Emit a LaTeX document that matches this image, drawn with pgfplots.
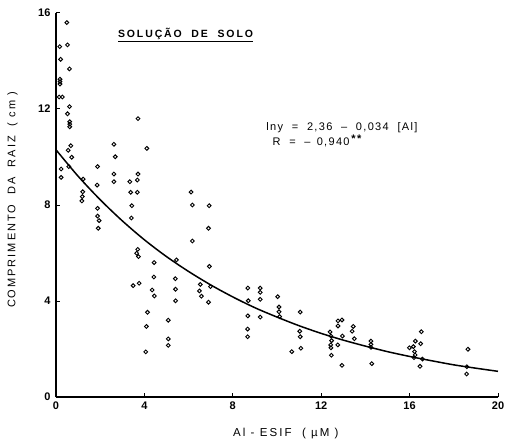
\documentclass[border=0pt]{standalone}
\usepackage{pgfplots}
\pgfplotsset{compat=1.18}
\usepackage{fontspec}
\setmainfont{Liberation Sans}
\newfontfamily\lbl[LetterSpace=18]{Liberation Sans}
\newfontfamily\lbls[LetterSpace=12]{Liberation Sans}
\begin{document}
\begin{tikzpicture}
\path[use as bounding box] (-56pt,-45pt) rectangle (449pt,397pt);
\begin{axis}[
  at={(0,0)}, anchor=south west,
  scale only axis, width=442pt, height=384pt,
  xmin=0, xmax=20, ymin=0, ymax=16,
  axis x line=bottom, axis y line=left,
  axis line style={-, line width=1.1pt},
  xtick={0,4,8,12,16,20}, ytick={0,4,8,12,16},
  tick align=inside, major tick length=4pt,
  tick style={line width=1pt, black},
  /pgf/number format/assume math mode=true,
  ticklabel style={font=\fontsize{11}{12}\selectfont\bfseries},
  xticklabel style={yshift=-1pt},
  yticklabel style={xshift=-2pt},
  xlabel={\lbl Al - ESIF \ ( µM )},
  x label style={at={(axis description cs:0.52,0)}, anchor=center, yshift=-37pt, font=\fontsize{11.5}{12}\selectfont},
  ylabel={\lbl COMPRIMENTO \ DA \ RAIZ \ ( cm )},
  y label style={at={(axis description cs:-0.0984,0.513)}, anchor=center, font=\fontsize{11}{12}\selectfont},
  clip=false,
]
\addplot[only marks, mark=o, mark size=1.9pt, mark options={line width=0.95pt, black}] coordinates {
(0.49,15.6) (0.17,14.6) (0.52,14.67) (0.21,14.07) (0.61,13.67)
(0.18,13.24) (0.18,13.14) (0.18,13.04) (0.14,12.5) (0.29,12.5)
(0.61,12.1) (0.52,11.8) (0.62,11.47) (0.62,11.37) (0.62,11.26)
(0.67,10.47) (0.55,10.28) (0.71,9.99) (0.58,9.6) (0.23,9.5) (0.23,9.15)
(1.23,9.08) (1.21,8.55) (1.19,8.35) (1.17,8.17)
(1.88,9.6) (1.86,8.83) (1.88,7.86) (1.88,7.54) (1.95,7.35) (1.91,7.03)
(2.62,10.53) (2.68,10.01) (2.62,9.29) (2.62,8.97)
(3.71,11.6) (3.71,9.29) (3.68,9.04) (3.34,8.97) (3.38,8.53) (3.68,8.53)
(3.43,7.97) (3.41,7.46) (3.7,6.15) (3.65,5.99) (3.73,5.85) (3.76,4.74) (3.49,4.64)
(4.11,10.36) (4.14,3.53) (4.09,2.94) (4.06,1.88) (4.44,5.6) (4.43,5.0) (4.35,4.46) (4.45,4.21)
(5.08,3.2) (5.08,2.42) (5.08,2.15) (5.45,5.71) (5.4,4.93) (5.41,4.49) (5.41,4.01)
(6.11,8.54) (6.17,8.0) (6.17,6.5) (6.53,4.69) (6.49,4.42) (6.58,4.2)
(6.93,7.97) (6.9,7.03) (6.94,5.44) (6.99,4.6) (6.9,3.95)
(8.68,4.54) (8.7,4.01) (8.68,3.38) (8.67,2.83) (8.67,2.51)
(9.24,4.54) (9.24,4.36) (9.24,4.07) (9.24,3.33)
(10.03,4.18) (10.09,3.75) (10.09,3.55) (10.12,3.35) (10.67,1.89)
(11.05,3.54) (11.03,2.74) (11.05,2.51) (11.08,2.03)
(12.4,2.71) (12.44,2.54) (12.47,2.35) (12.43,2.17) (12.44,2.05) (12.46,1.74)
(12.76,3.17) (12.94,3.21) (12.76,2.96) (12.96,2.54) (12.75,2.17) (12.94,1.32)
(13.45,2.94) (13.4,2.74) (13.5,2.43)
(14.25,2.33) (14.25,2.19) (14.25,2.07) (14.29,1.39)
(15.99,2.05) (16.17,2.1) (16.26,2.33) (16.22,1.89) (16.25,1.75)
(16.53,2.72) (16.5,2.22) (16.2,1.64) (16.58,1.58) (16.47,1.28)
(18.64,1.99) (18.59,1.26) (18.58,0.96)
};
\addplot[black, line width=1.5pt, smooth, no marks] coordinates {
(0,10.30) (1,9.20) (2,8.22) (3,7.34) (4,6.55) (5,5.85) (6,5.23) (7,4.67)
(8,4.17) (9,3.72) (10,3.33) (11,2.97) (12,2.65) (13,2.37) (14,2.12)
(15,1.89) (16,1.69) (17,1.51) (18,1.34) (19,1.20) (20,1.07)
};
\node[font=\fontsize{10.5}{12}\selectfont\bfseries] at (axis cs:5.86,15.1) {\lbl\underline{SOLUÇÃO \ DE \ SOLO}};
\node[anchor=west, font=\fontsize{11}{12}\selectfont] at (axis cs:9.36,11.21) {\lbls lny \ = \ 2,36 \ – \ 0,034 \ [Al]};
\node[anchor=west, font=\fontsize{11}{12}\selectfont] at (axis cs:9.64,10.67) {\lbls R \ = \ – \,0,940\,\raisebox{0.5ex}{\bfseries **}};
\end{axis}
\end{tikzpicture}
\end{document}
